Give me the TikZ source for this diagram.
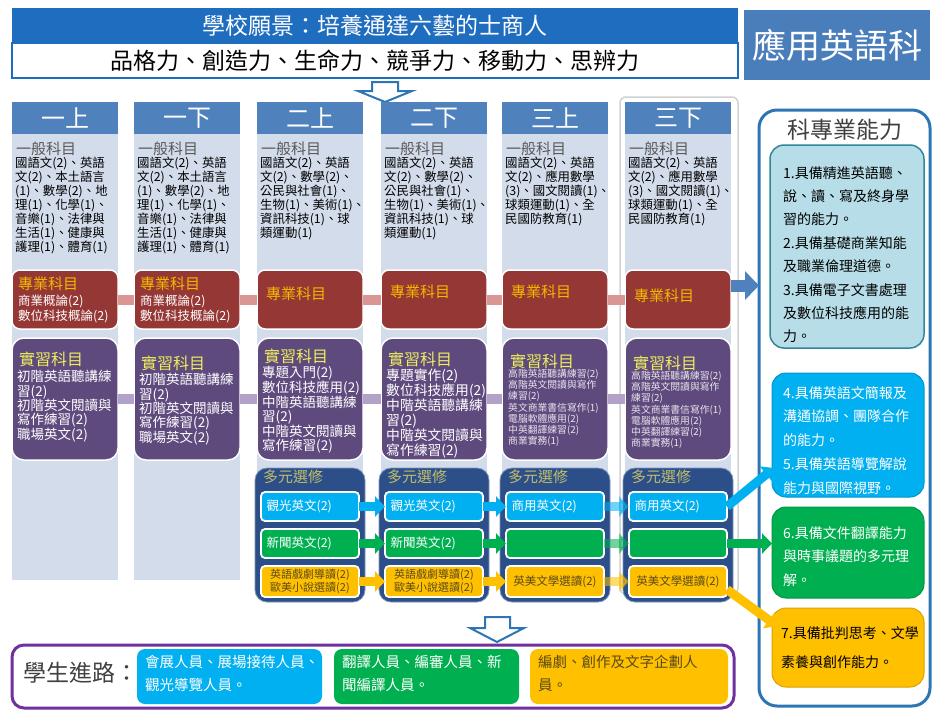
\documentclass[tikz,border=0pt]{standalone}
\usepackage{fontspec}
\setmainfont{Noto Sans CJK TC}
\usetikzlibrary{arrows.meta,calc}
\definecolor{hdrblue}{HTML}{1F6DBF}
\definecolor{colhead}{HTML}{4F81BD}
\definecolor{colbody}{HTML}{D3DCEA}
\definecolor{redbox}{HTML}{953735}
\definecolor{purbox}{HTML}{5F4A7E}
\definecolor{pinkc}{HTML}{D99694}
\definecolor{purc}{HTML}{B3A2C7}
\definecolor{elecbox}{HTML}{2C4F8A}
\definecolor{cyanb}{HTML}{00B0F0}
\definecolor{greenb}{HTML}{00B050}
\definecolor{yellowb}{HTML}{FFC000}
\definecolor{gold}{HTML}{F5B800}
\definecolor{pyellow}{HTML}{EEEE5C}
\definecolor{olive}{HTML}{C0BC6A}
\definecolor{panelblue}{HTML}{2E75B6}
\definecolor{lightteal}{HTML}{B7DEE8}
\definecolor{tealb}{HTML}{31859C}
\definecolor{deptblue}{HTML}{4A7EBB}
\definecolor{purpleframe}{HTML}{7030A0}
\definecolor{darktext}{HTML}{404040}
\definecolor{graytext}{HTML}{595959}
\definecolor{brownt}{HTML}{5A4A1A}
\newcommand\fs[2]{\fontsize{#1}{#2}\selectfont}
\newcommand\mkbox[6]{\node[#1,anchor=north west,inner sep=0pt,outer sep=0pt,minimum width=#4pt,minimum height=#5pt] (#6) at (#2,#3) {};}
\begin{document}
\begin{tikzpicture}[x=1pt,y=-1pt,
  redst/.style={fill=redbox,draw=white,line width=1.5pt,rounded corners=8pt},
  purst/.style={fill=purbox,draw=white,line width=1.5pt,rounded corners=12pt},
  elecst/.style={fill=elecbox,draw=elecbox!60!white,line width=0.8pt,rounded corners=12pt},
  innerst/.style={draw=white,line width=1.8pt,rounded corners=4pt},
  kst/.style={rounded corners=14pt},
  pinkconn/.style={pinkc,line width=10pt},
  purconn/.style={purc,line width=10pt},
  barrow/.style={line width=9pt,-{Triangle[width=20pt,length=10pt]}},
  txt/.style={anchor=north west,inner sep=0pt,align=left},
  gen/.style={txt,font=\fs{12.4}{14}},
  hollow/.style={panelblue,line width=2pt,fill=white,line join=miter}]
\useasboundingbox (0,0) rectangle (934,713);
\fill[white] (0,0) rectangle (934,713);
% header
\mkbox{fill=hdrblue}{12}{8}{726}{35}{hdr}
\node[text=white,font=\fs{23}{25}] (hdrt) at (hdr.center) {學校願景：培養通達六藝的士商人};
\mkbox{fill=white,draw=hdrblue,line width=2pt}{12}{43}{726}{35}{sub}
\node[font=\fs{23}{25}] (subt) at (sub.center) {品格力、創造力、生命力、競爭力、移動力、思辨力};
\mkbox{fill=deptblue}{744}{10}{186}{70}{dept}
\node[text=white,font=\fs{34}{36}] (deptt) at (dept.center) {應用英語科};
\draw[hollow] (372,82) -- (398,82) -- (398,91) -- (412,91) -- (385,102) -- (358,91) -- (372,91) -- cycle;
% columns
\foreach \x/\lab/\h [count=\i] in {12/一上/446,134/一下/446,257/二上/462,381/二下/462,502/三上/462,625/三下/462}{
  \mkbox{fill=colbody}{\x}{134}{106}{\h}{cb\i}
  \mkbox{fill=colhead}{\x}{102}{106}{32}{ch\i}
  \node[text=white,font=\fs{24}{26}] (cht\i) at (ch\i.center) {\lab};
}
\draw[gray!35,line width=1.5pt,rounded corners=6pt] (620,97) rectangle (738,594);
% general subjects
\foreach \x [count=\i] in {16,138,261,385,506,629}{
  \node[txt,text=graytext,font=\fs{15}{17}] (gt\i) at (\x,142) {一般科目};
}
\node[gen] (gb1) at (15,157) {國語文(2)、英語\\文(2)、本土語言\\(1)、數學(2)、地\\理(1)、化學(1)、\\音樂(1)、法律與\\生活(1)、健康與\\護理(1)、體育(1)};
\node[gen] (gb2) at (137,157) {國語文(2)、英語\\文(2)、本土語言\\(1)、數學(2)、地\\理(1)、化學(1)、\\音樂(1)、法律與\\生活(1)、健康與\\護理(1)、體育(1)};
\node[gen] (gb3) at (260,157) {國語文(2)、英語\\文(2)、數學(2)、\\公民與社會(1)、\\生物(1)、美術(1)、\\資訊科技(1)、球\\類運動(1)};
\node[gen] (gb4) at (384,157) {國語文(2)、英語\\文(2)、數學(2)、\\公民與社會(1)、\\生物(1)、美術(1)、\\資訊科技(1)、球\\類運動(1)};
\node[gen] (gb5) at (505,157) {國語文(2)、英語\\文(2)、應用數學\\(3)、國文閱讀(1)、\\球類運動(1)、全\\民國防教育(1)};
\node[gen] (gb6) at (628,157) {國語文(2)、英語\\文(2)、應用數學\\(3)、國文閱讀(1)、\\球類運動(1)、全\\民國防教育(1)};
% professional subjects
\foreach \x [count=\i] in {12,134,257,381,502,625}{\mkbox{redst}{\x}{270}{106}{59}{r\i}}
\foreach \a/\b in {1/2,2/3,3/4,4/5,5/6}{\draw[pinkconn] (r\a.east) -- (r\b.west);}
\node[txt,text=gold,font=\fs{15}{17}] (rt1) at (18,277) {專業科目};
\node[txt,text=white,font=\fs{12.5}{15}] (rb1) at (18,295) {商業概論(2)\\數位科技概論(2)};
\node[txt,text=gold,font=\fs{15}{17}] (rt2) at (140,277) {專業科目};
\node[txt,text=white,font=\fs{12.5}{15}] (rb2) at (140,295) {商業概論(2)\\數位科技概論(2)};
\node[anchor=west,inner sep=0pt,text=gold,font=\fs{15}{17}] (rt3) at (266,294) {專業科目};
\node[anchor=west,inner sep=0pt,text=gold,font=\fs{15}{17}] (rt4) at (390,292) {專業科目};
\node[anchor=west,inner sep=0pt,text=gold,font=\fs{15}{17}] (rt5) at (511,292) {專業科目};
\node[anchor=west,inner sep=0pt,text=gold,font=\fs{15}{17}] (rt6) at (634,296) {專業科目};
% practice subjects
\foreach \x [count=\i] in {12,134,257,381,502,625}{\mkbox{purst}{\x}{338}{106}{122}{p\i}}
\foreach \a/\b in {1/2,2/3,3/4,4/5,5/6}{\draw[purconn] (p\a.east) -- (p\b.west);}
\node[txt,text=pyellow,font=\fs{16}{18}] (pt1) at (19,352) {實習科目};
\node[txt,text=white,font=\fs{13.5}{14.4}] (pb1) at (17,370) {初階英語聽講練\\習(2)\\初階英文閱讀與\\寫作練習(2)\\職場英文(2)};
\node[txt,text=pyellow,font=\fs{16}{18}] (pt2) at (141,356) {實習科目};
\node[txt,text=white,font=\fs{13.5}{14.4}] (pb2) at (139,373) {初階英語聽講練\\習(2)\\初階英文閱讀與\\寫作練習(2)\\職場英文(2)};
\node[txt,text=pyellow,font=\fs{16}{18}] (pt3) at (264,349) {實習科目};
\node[txt,text=white,font=\fs{13.5}{14}] (pb3) at (262,366) {專題入門(2)\\數位科技應用(2)\\中階英語聽講練\\習(2)\\中階英文閱讀與\\寫作練習(2)};
\node[txt,text=pyellow,font=\fs{16}{18}] (pt4) at (388,352) {實習科目};
\node[txt,text=white,font=\fs{13.8}{15}] (pb4) at (386,369) {專題實作(2)\\數位科技應用(2)\\中階英語聽講練\\習(2)\\中階英文閱讀與\\寫作練習(2)};
\node[txt,text=pyellow,font=\fs{16}{18}] (pt5) at (510,354) {實習科目};
\node[txt,text=white!85!purbox,font=\fs{9.8}{11.2}] (pb5) at (508,369) {高階英語聽講練習(2)\\高階英文閱讀與寫作\\練習(2)\\英文商業書信寫作(1)\\電腦軟體應用(2)\\中英翻譯練習(2)\\商業實務(1)};
\node[txt,text=pyellow,font=\fs{16}{18}] (pt6) at (633,356) {實習科目};
\node[txt,text=white!85!purbox,font=\fs{9.8}{11.2}] (pb6) at (631,371) {高階英語聽講練習(2)\\高階英文閱讀與寫作\\練習(2)\\英文商業書信寫作(1)\\電腦軟體應用(2)\\中英翻譯練習(2)\\商業實務(1)};
% electives
\foreach \x [count=\i from 3] in {255,379,500,623}{
  \mkbox{elecst}{\x}{468}{110}{134}{e\i}
  \node[txt,text=olive,font=\fs{15}{17}] (et\i) at (\x+8,470) {多元選修};
  \mkbox{innerst,fill=cyanb}{\x+6}{492}{98}{29}{e\i c}
  \mkbox{innerst,fill=greenb}{\x+6}{529}{98}{29}{e\i g}
  \mkbox{innerst,fill=yellowb}{\x+6}{566}{98}{31}{e\i y}
}
\node[anchor=west,text=white,font=\fs{12.5}{14}] (ec3) at ([xshift=2pt]e3c.west) {觀光英文(2)};
\node[anchor=west,text=white,font=\fs{12.5}{14}] (eg3) at ([xshift=2pt]e3g.west) {新聞英文(2)};
\node[text=brownt,font=\fs{11}{12.5},align=center,inner sep=0pt] (ey3) at (e3y.center) {英語戲劇導讀(2)\\歐美小說選讀(2)};
\node[anchor=west,text=white,font=\fs{12.5}{14}] (ec4) at ([xshift=2pt]e4c.west) {觀光英文(2)};
\node[anchor=west,text=white,font=\fs{12.5}{14}] (eg4) at ([xshift=2pt]e4g.west) {新聞英文(2)};
\node[text=brownt,font=\fs{11}{12.5},align=center,inner sep=0pt] (ey4) at (e4y.center) {英語戲劇導讀(2)\\歐美小說選讀(2)};
\node[anchor=west,text=white,font=\fs{12.5}{14}] (ec5) at ([xshift=2pt]e5c.west) {商用英文(2)};
\node[text=brownt,font=\fs{11.5}{13}] (ey5) at (e5y.center) {英美文學選讀(2)};
\node[anchor=west,text=white,font=\fs{12.5}{14}] (ec6) at ([xshift=2pt]e6c.west) {商用英文(2)};
\node[text=brownt,font=\fs{11.5}{13}] (ey6) at (e6y.center) {英美文學選讀(2)};
\draw[barrow,cyanb] (e3c.east) -- (e4c.west);
\draw[barrow,cyanb] (e4c.east) -- (e5c.west);
\draw[barrow,cyanb,opacity=0.55] (e5c.east) -- (e6c.west);
\draw[barrow,greenb] (e3g.east) -- (e4g.west);
\draw[barrow,greenb] (e4g.east) -- (e5g.west);
\draw[barrow,greenb,opacity=0.55] (e5g.east) -- (e6g.west);
\draw[barrow,yellowb] (e3y.east) -- (e4y.west);
\draw[barrow,yellowb] (e4y.east) -- (e5y.west);
\draw[barrow,yellowb,opacity=0.55] (e5y.east) -- (e6y.west);
% right panel
\mkbox{draw=panelblue,line width=3pt,fill=white,rounded corners=18pt}{759}{110}{171}{596}{P}
\node[text=darktext,font=\fs{23}{25}] (Pt) at (845,130) {科專業能力};
\mkbox{kst,fill=lightteal,draw=tealb,line width=1.5pt}{770}{145}{154}{203}{k1}
\node[txt,font=\fs{14}{23.4}] (k1t) at (783,166) {1.具備精進英語聽、\\說、讀、寫及終身學\\習的能力。\\2.具備基礎商業知能\\及職業倫理道德。\\3.具備電子文書處理\\及數位科技應用的能\\力。};
\mkbox{kst,fill=cyanb,draw=cyanb!85!black,line width=1pt}{772}{373}{152}{124}{k2}
\node[txt,text=white,font=\fs{14}{23.75}] (k2t) at (783,386) {4.具備英語文簡報及\\溝通協調、團隊合作\\的能力。\\5.具備英語導覽解說\\能力與國際視野。};
\mkbox{kst,fill=greenb,draw=greenb!85!black,line width=1pt}{772}{507}{152}{91}{k3}
\node[txt,text=white,font=\fs{14}{23.5}] (k3t) at (783,526) {6.具備文件翻譯能力\\與時事議題的多元理\\解。};
\mkbox{kst,fill=yellowb,draw=yellowb!85!black,line width=1pt}{772}{608}{152}{79}{k4}
\node[txt,font=\fs{14}{29}] (k4t) at (781,626) {7.具備批判思考、文學\\素養與創作能力。};
% arrows into panel
\coordinate (t2) at (774,468);
\coordinate (t4) at (777,626);
\draw[colhead,line width=12pt,-{Triangle[width=28pt,length=14pt]}] ([yshift=14pt]r6.east) -- ([yshift=14pt]r6.east -| P.west);
\draw[barrow,cyanb] (e6c.east) -- (t2);
\draw[barrow,greenb] (e6g.east) -- (e6g.east -| k3.west);
\draw[barrow,yellowb] ([yshift=-8pt]e6y.east) -- (t4);
% bottom
\draw[hollow] (485,617) -- (510,617) -- (510,628) -- (524,628) -- (497,642) -- (470,628) -- (485,628) -- cycle;
\mkbox{draw=purpleframe,line width=3pt,fill=white,rounded corners=12pt}{12}{645}{722}{63}{B}
\node[anchor=west,text=darktext,font=\fs{23}{25}] (Bt) at (20,673) {學生進路：};
\mkbox{fill=cyanb,rounded corners=8pt}{137}{649}{185}{55}{b1}
\mkbox{fill=greenb,rounded corners=8pt}{334}{649}{185}{55}{b2}
\mkbox{fill=yellowb,rounded corners=8pt}{530}{649}{198}{55}{b3}
\node[txt,text=white,font=\fs{14.5}{23}] (b1t) at (145,655) {會展人員、展場接待人員、\\觀光導覽人員。};
\node[txt,text=white,font=\fs{14.5}{23}] (b2t) at (342,655) {翻譯人員、編審人員、新\\聞編譯人員。};
\node[txt,text=brownt,font=\fs{14.5}{23}] (b3t) at (538,655) {編劇、創作及文字企劃人\\員。};
\end{tikzpicture}
\end{document}
